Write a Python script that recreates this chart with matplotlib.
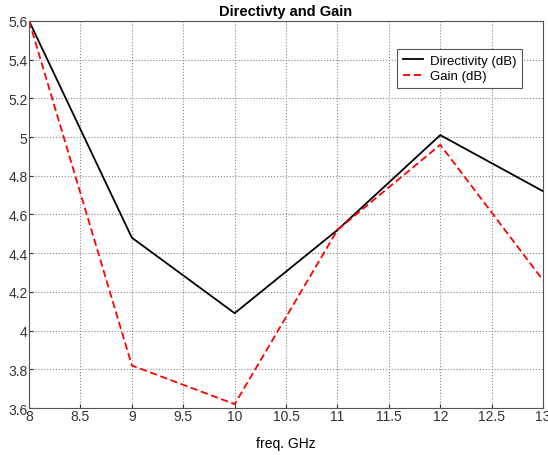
import matplotlib
matplotlib.use("Agg")
import matplotlib.pyplot as plt

plt.rcParams['font.family'] = ['Liberation Sans', 'DejaVu Sans']

freq = [8, 9, 10, 11, 12, 13]
directivity = [5.60, 4.48, 4.09, 4.52, 5.01, 4.72]
gain = [5.60, 3.82, 3.62, 4.52, 4.96, 4.26]

xticks = [8, 8.5, 9, 9.5, 10, 10.5, 11, 11.5, 12, 12.5, 13]
xticklabels = ['8', '8.5', '9', '9.5', '10', '10.5', '11', '11.5', '12', '12.5', '13']
yticks = [3.6, 3.8, 4, 4.2, 4.4, 4.6, 4.8, 5, 5.2, 5.4, 5.6]
yticklabels = ['3.6', '3.8', '4', '4.2', '4.4', '4.6', '4.8', '5', '5.2', '5.4', '5.6']

fig = plt.figure(figsize=(5.48, 4.56), dpi=100)
ax = fig.add_axes([0.053, 0.103, 0.938, 0.849])

ax.plot(freq, directivity, color='black', linewidth=1.3, label='Directivity (dB)')
ax.plot(freq, gain, color='red', linestyle='--', linewidth=1.3, dashes=(4, 2), label='Gain (dB)')

ax.set_xlim(8, 13)
ax.set_ylim(3.6, 5.6)
ax.set_xticks(xticks)
ax.set_xticklabels(xticklabels)
ax.set_yticks(yticks)
ax.set_yticklabels(yticklabels)
ax.tick_params(direction='in', length=3, labelsize=10, colors='#333333', pad=1)
ax.grid(True, linestyle=':', color='#888888', linewidth=0.8)
for s in ax.spines.values():
    s.set_color('#555555')

ax.set_title('Directivty and Gain', fontsize=10.5, fontweight='bold', pad=4)
ax.set_xlabel('freq. GHz', fontsize=10, labelpad=9)

leg = ax.legend(loc='upper right', bbox_to_anchor=(0.959, 0.928), fontsize=9.5,
                fancybox=False, framealpha=1, edgecolor='#555555', borderaxespad=0,
                handlelength=1.5, borderpad=0.45, labelspacing=0.25, handletextpad=0.5)
leg.get_frame().set_linewidth(0.8)

fig.savefig('out.png', dpi=100)
